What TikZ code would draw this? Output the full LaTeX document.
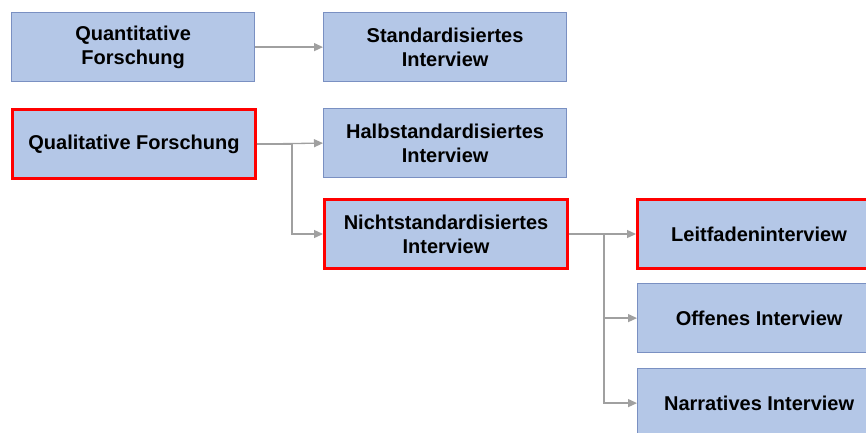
\documentclass[tikz,border=0pt]{standalone}
\usepackage{fontspec}
\setmainfont{Liberation Sans}
\usetikzlibrary{arrows.meta}
\definecolor{boxfill}{HTML}{B4C7E7}
\definecolor{boxline}{HTML}{7A90C2}
\definecolor{connc}{HTML}{A0A0A0}
\definecolor{hlred}{HTML}{FF0000}
\begin{document}
\begin{tikzpicture}[x=1pt,y=-1pt,
 box/.style={draw=boxline, line width=1.2pt, fill=boxfill, minimum width=243pt, minimum height=69pt, inner sep=0pt, align=center, font=\fontsize{20}{24}\selectfont\bfseries, anchor=north west},
 hl/.style={draw=hlred, line width=3pt},
 conn/.style={draw=connc, line width=1.3pt, -{Triangle[length=9pt,width=8pt]}}]
\clip (0,0) rectangle (866,432);
\fill[white] (0,0) rectangle (866,432);
\node[box] (quan) at (11,12) {Quantitative\\Forschung};
\node[box] (std) at (323,12) {Standardisiertes\\Interview};
\node[box,hl] (qual) at (11,108) {Qualitative Forschung};
\node[box] (halb) at (323,108) {Halbstandardisiertes\\Interview};
\node[box,hl] (nicht) at (323,198) {Nichtstandardisiertes\\Interview};
\node[box,hl] (leit) at (636,198) {Leitfadeninterview};
\node[box] (offen) at (637,283) {Offenes Interview};
\node[box] (narr) at (637,368) {Narratives Interview};
\draw[conn] (quan.east) -- (std.west);
\draw[conn] (qual.east) -- (halb.west);
\draw[conn] (qual.east) -- ++(35,0) |- (nicht.west);
\draw[conn] (nicht.east) -- (leit.west);
\draw[conn] (nicht.east) -- ++(35,0) |- (offen.west);
\draw[conn] (nicht.east) -- ++(35,0) |- (narr.west);
\end{tikzpicture}
\end{document}
